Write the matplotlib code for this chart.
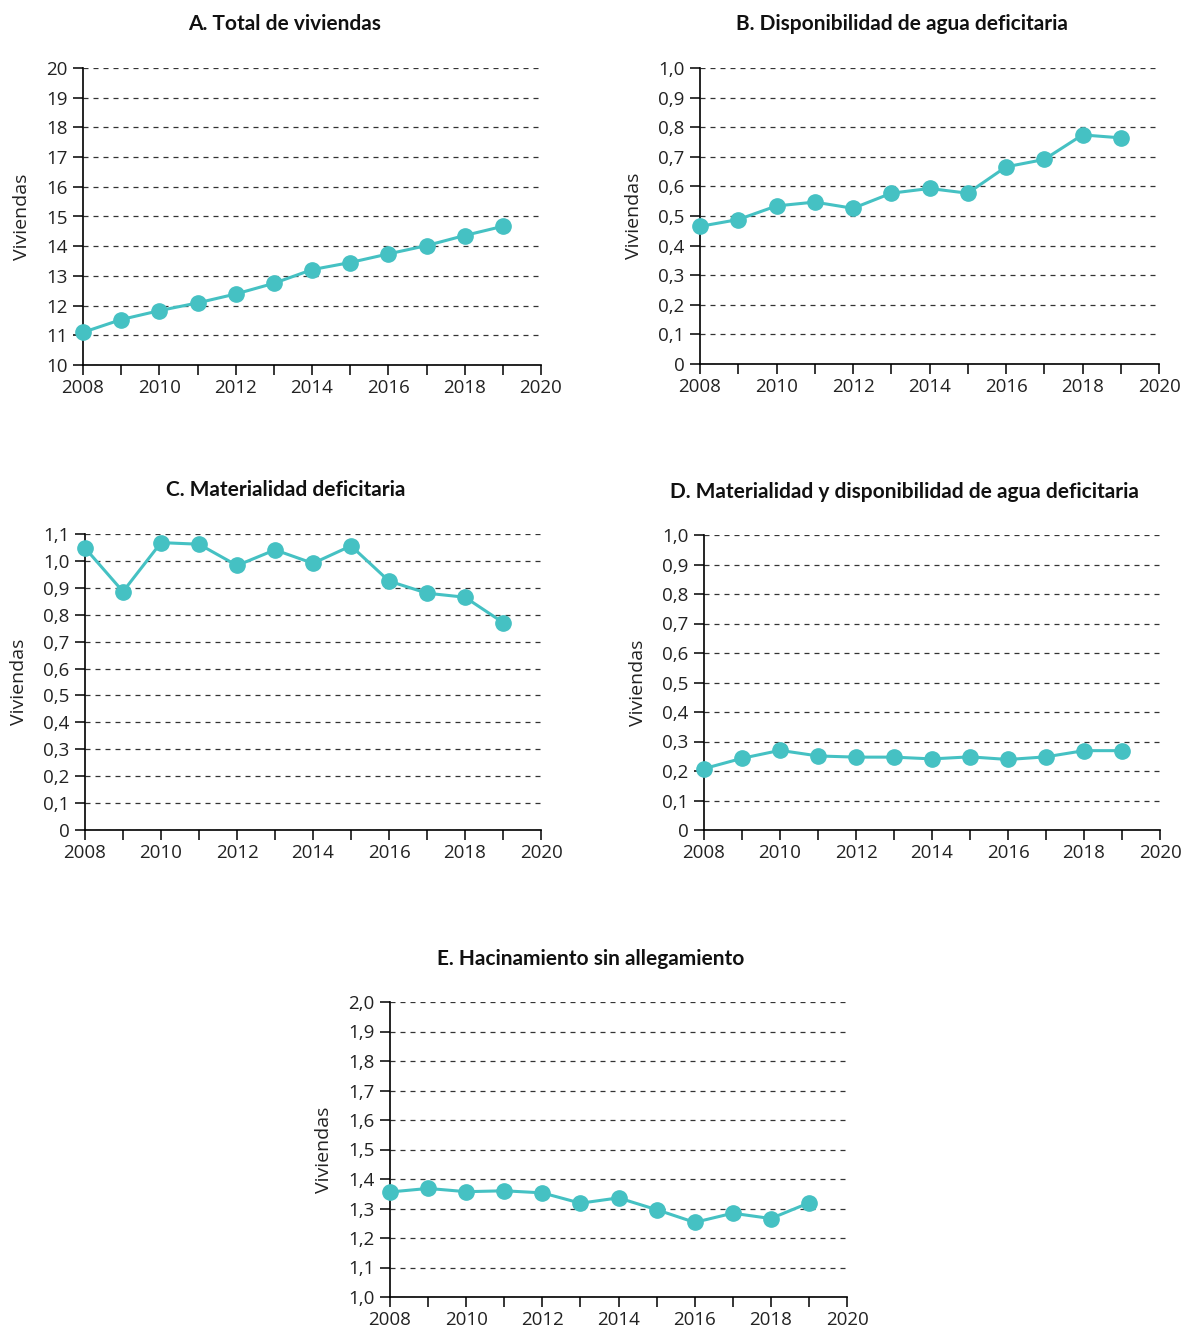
import matplotlib
matplotlib.use("Agg")
import matplotlib.pyplot as plt
import matplotlib.ticker as mticker

plt.rcParams['font.family'] = ['Open Sans', 'DejaVu Sans']

years = [2008, 2009, 2010, 2011, 2012, 2013, 2014, 2015, 2016, 2017, 2018, 2019]

total_viviendas = [11.10, 11.53, 11.83, 12.09, 12.39, 12.75, 13.21, 13.45, 13.74, 14.02, 14.36, 14.67]
agua_deficitaria = [0.465, 0.488, 0.534, 0.547, 0.526, 0.577, 0.593, 0.577, 0.666, 0.691, 0.774, 0.764]
materialidad = [1.048, 0.886, 1.068, 1.062, 0.983, 1.041, 0.991, 1.056, 0.925, 0.880, 0.865, 0.771]
mat_y_agua = [0.208, 0.243, 0.270, 0.251, 0.247, 0.247, 0.241, 0.248, 0.239, 0.248, 0.269, 0.269]
hacinamiento = [1.356, 1.368, 1.357, 1.360, 1.353, 1.318, 1.336, 1.296, 1.253, 1.284, 1.266, 1.319]

titles = ["A. Total de viviendas",
          "B. Disponibilidad de agua deficitaria",
          "C. Materialidad deficitaria",
          "D. Materialidad y disponibilidad de agua deficitaria",
          "E. Hacinamiento sin allegamiento"]
series = [total_viviendas, agua_deficitaria, materialidad, mat_y_agua, hacinamiento]
ylims = [(10, 20), (0, 1.0), (0, 1.1), (0, 1.0), (1.0, 2.0)]
ysteps = [1, 0.1, 0.1, 0.1, 0.1]
ylabel = "Viviendas"

# axes boxes in pixels: x0, x1, ytop, ybottom
W, H = 1182, 1330
boxes = [(83, 541, 68, 365),
         (700, 1159, 68, 364),
         (85, 541, 534, 830),
         (704, 1160, 535, 830),
         (390, 847, 1002, 1297)]

color = "#45C1C3"

fig = plt.figure(figsize=(W / 100, H / 100), dpi=100)

def make_fmt(step):
    def f(v, pos):
        if step >= 1:
            return f"{v:.0f}"
        if abs(v) < 1e-9:
            return "0"
        return f"{v:.1f}".replace('.', ',')
    return f

def xfmt(v, pos):
    iv = int(round(v))
    return str(iv) if iv % 2 == 0 else ""

for title, vals, ylim, step, box in zip(titles, series, ylims, ysteps, boxes):
    x0, x1, yt, yb = box
    ax = fig.add_axes([x0 / W, 1 - yb / H, (x1 - x0) / W, (yb - yt) / H])
    ax.set_xlim(2008, 2020)
    ax.set_ylim(*ylim)
    ax.xaxis.set_major_locator(mticker.MultipleLocator(1))
    ax.xaxis.set_major_formatter(mticker.FuncFormatter(xfmt))
    ax.yaxis.set_major_locator(mticker.MultipleLocator(step))
    ax.yaxis.set_major_formatter(mticker.FuncFormatter(make_fmt(step)))
    ax.grid(axis='y', linestyle=(0, (4, 4)), color='#333333', linewidth=0.9)
    ax.set_axisbelow(True)
    for s in ['top', 'right']:
        ax.spines[s].set_visible(False)
    for s in ['left', 'bottom']:
        ax.spines[s].set_color('black')
        ax.spines[s].set_linewidth(1.2)
    ax.tick_params(axis='both', direction='out', length=7, width=1.1,
                   color='black', labelsize=13.5, labelcolor='#222222')
    ax.tick_params(axis='y', pad=4)
    ax.tick_params(axis='x', pad=3)
    ax.plot(years, vals, color=color, linewidth=2.2, marker='o',
            markersize=11, markerfacecolor=color, markeredgecolor=color,
            clip_on=False, zorder=3)
    ax.set_ylabel(ylabel, fontsize=14, color='#222222', labelpad=11)
    ax.set_title(title, fontsize=15, fontweight='bold', x=0.44, pad=27,
                 color='#111111', family=['Lato', 'DejaVu Sans'])

fig.savefig("out.png", dpi=100, facecolor='white')
